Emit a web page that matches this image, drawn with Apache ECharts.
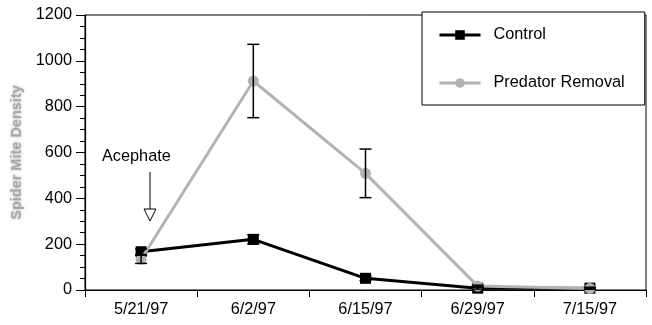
<!DOCTYPE html>
<html>
<head>
<meta charset="utf-8">
<script src="https://cdn.jsdelivr.net/npm/echarts@6/dist/echarts.min.js"></script>
<style>
html,body{margin:0;padding:0;background:#fff;}
#chart{width:652px;height:325px;}
</style>
</head>
<body>
<div id="chart"></div>
<script>
// data
var dates = ['5/21/97', '6/2/97', '6/15/97', '6/29/97', '7/15/97'];
var controlVals = [167, 221, 51, 8, 8];
var controlErr = [12, 20, 10, 4, 4];
var predatorVals = [134, 912, 509, 17, 7];
var predatorErr = [18, 160, 106, 4, 3];
var yTicks = [0, 200, 400, 600, 800, 1000, 1200];

var font = 'Liberation Sans, Arial, sans-serif';
var fs = 16.3;

/*
 * 误差棒数据 [x, low, high]
 */
function errData(vals, errs){
	var out = [];
	for(var i = 0; i < vals.length; i++){
		out.push([i, vals[i] - errs[i], vals[i] + errs[i]]);
	}
	return out;
}
function renderErr(params, api){
	var x = api.value(0);
	var lo = api.coord([x, api.value(1)]);
	var hi = api.coord([x, api.value(2)]);
	var w = 6;
	var st = {stroke: '#000', lineWidth: 1.5};
	return {
		type: 'group',
		children: [
			{type: 'line', shape: {x1: lo[0], y1: lo[1], x2: hi[0], y2: hi[1]}, style: st},
			{type: 'line', shape: {x1: lo[0] - w, y1: lo[1], x2: lo[0] + w, y2: lo[1]}, style: st},
			{type: 'line', shape: {x1: hi[0] - w, y1: hi[1], x2: hi[0] + w, y2: hi[1]}, style: st}
		]
	};
}

var chart = echarts.init(document.getElementById('chart'));
var option = {
	animation: false,
	textStyle: {fontFamily: font},
	grid: {
		left: 85,
		right: 6,
		top: 15,
		bottom: 35,
		outerBoundsMode: 'none',
		show: true,
		borderColor: '#000',
		borderWidth: 1
	},
	legend: {
		orient: 'vertical',
		left: 422,
		top: 12,
		padding: [14, 20, 13, 16],
		itemGap: 30,
		itemWidth: 41,
		itemHeight: 12,
		backgroundColor: '#fff',
		borderColor: '#000',
		borderWidth: 1,
		borderRadius: 0,
		selectedMode: false,
		lineStyle: {width: 3},
		textStyle: {
			fontFamily: font,
			fontSize: fs,
			color: '#000',
			padding: [0, 0, 0, 8],
			lineHeight: 18
		},
		data: ['Control', 'Predator Removal']
	},
	xAxis: {
		type: 'category',
		data: dates,
		boundaryGap: true,
		axisLine: {lineStyle: {color: '#000', width: 1.2}},
		axisTick: {show: true, inside: false, length: 7, lineStyle: {color: '#000'}},
		axisLabel: {color: '#000', fontSize: fs, fontFamily: font, margin: 12}
	},
	yAxis: {
		type: 'value',
		min: yTicks[0],
		max: yTicks[yTicks.length - 1],
		interval: 200,
		name: 'Spider Mite Density',
		nameLocation: 'middle',
		nameGap: 58,
		nameTextStyle: {
			color: '#a8a8a8',
			fontSize: 14.5,
			fontWeight: 'bold',
			fontFamily: font,
			textShadowColor: 'rgba(170,170,170,0.9)',
			textShadowBlur: 3
		},
		splitLine: {show: false},
		axisLine: {show: true, lineStyle: {color: '#000', width: 1.2}},
		axisTick: {show: true, inside: false, length: 9, lineStyle: {color: '#000'}},
		minorTick: {show: true, splitNumber: 4, length: 5, lineStyle: {color: '#000'}},
		axisLabel: {
			color: '#000', fontSize: fs, fontFamily: font, margin: 13,
			formatter: function(v){ return String(v); }
		}
	},
	series: [
		{
			name: 'Control',
			type: 'line',
			data: controlVals,
			symbol: 'rect',
			symbolSize: 11,
			color: '#000',
			lineStyle: {color: '#000', width: 3},
			itemStyle: {color: '#000'},
			z: 2
		},
		{
			name: 'Predator Removal',
			type: 'line',
			data: predatorVals,
			symbol: 'circle',
			symbolSize: 11,
			color: '#b3b3b3',
			lineStyle: {color: '#b3b3b3', width: 3},
			itemStyle: {color: '#b3b3b3'},
			z: 3
		},
		{
			type: 'custom',
			renderItem: renderErr,
			data: errData(controlVals, controlErr),
			z: 4
		},
		{
			type: 'custom',
			renderItem: renderErr,
			data: errData(predatorVals, predatorErr),
			z: 4
		}
	],
	graphic: [
		{
			type: 'text',
			left: 102,
			top: 149,
			style: {text: 'Acephate', fill: '#000', font: fs + 'px ' + font}
		},
		{
			type: 'line',
			shape: {x1: 150, y1: 172, x2: 150, y2: 209},
			style: {stroke: '#000', lineWidth: 1}
		},
		{
			type: 'polygon',
			shape: {points: [[144, 209], [156, 209], [150, 221]]},
			style: {fill: '#fff', stroke: '#000', lineWidth: 1}
		}
	]
};
chart.setOption(option);
</script>
</body>
</html>
